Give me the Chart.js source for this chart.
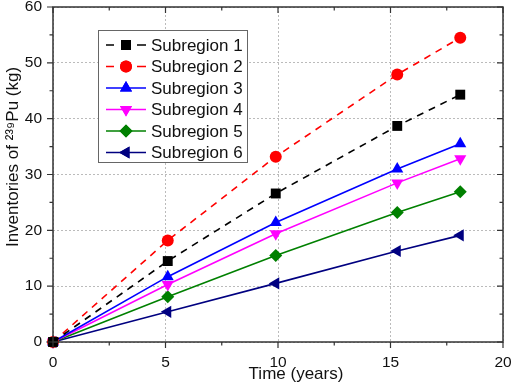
<!DOCTYPE html>
<html>
<head>
<meta charset="utf-8">
<script src="https://cdn.jsdelivr.net/npm/chart.js@4"></script>
<style>
  html, body { margin: 0; padding: 0; background: #fff; }
  #wrap { width: 512px; height: 386px; }
</style>
</head>
<body>
<div id="wrap"><canvas id="chart" width="512" height="386"></canvas></div>
<script>
// values
const years = [0, 5.1, 9.9, 15.3, 18.1];
const labels = ['Subregion 1', 'Subregion 2', 'Subregion 3', 'Subregion 4', 'Subregion 5', 'Subregion 6'];
const sub1 = [0, 14.5, 26.6, 38.7, 44.3];
const sub2 = [0, 18.2, 33.2, 47.9, 54.5];
const sub3 = [0, 11.7, 21.4, 31.0, 35.5];
const sub4 = [0, 10.3, 19.4, 28.5, 32.8];
const sub5 = [0, 8.1, 15.5, 23.2, 26.9];
const sub6 = [0, 5.4, 10.5, 16.3, 19.1];
const xTicks = [0, 5, 10, 15, 20];
const yTicks = [0, 10, 20, 30, 40, 50, 60];
const xTitle = 'Time (years)';
const yTitle = 'Inventories of \u00B2\u00B3\u2079Pu (kg)';

const colors = ['#000000', '#ff0000', '#0000ff', '#ff00ff', '#008000', '#000080'];
const shapes = ['rect', 'circle', 'triangle', 'triangle', 'rectRot', 'triangle'];
const rots = [0, 0, 0, 180, 0, 270];
const radii = [7, 6, 7, 7, 6.5, 7];
const dashes = [[7, 6], [7, 6], [], [], [], []];
const series = [sub1, sub2, sub3, sub4, sub5, sub6];
const FONT = '"Liberation Sans", Arial, sans-serif';

function pts(vals) {
    return vals.map((v, i) => ({ x: years[i], y: v }));
}

const datasets = series.map((s, i) => ({
    label: labels[i],
    data: pts(s),
    borderColor: colors[i],
    backgroundColor: colors[i],
    borderWidth: 1.6,
    borderDash: dashes[i],
    pointStyle: shapes[i],
    pointRotation: rots[i],
    pointRadius: radii[i],
    pointBorderWidth: 0,
    pointBackgroundColor: colors[i],
    clip: false,
    tension: 0
}));

// frame, ticks (out on left/bottom, in on top/right) and axis titles
const framePlugin = {
    id: 'frame',
    afterDraw(chart) {
        const ctx = chart.ctx;
        const a = chart.chartArea;
        const xs = chart.scales.x, ys = chart.scales.y;
        ctx.save();
        ctx.strokeStyle = '#333';
        ctx.lineWidth = 1.5;
        ctx.strokeRect(a.left, a.top, a.right - a.left, a.bottom - a.top);
        ctx.lineWidth = 1.2;
        for (let v = 0; v <= 20; v += 2.5) {
            const px = xs.getPixelForValue(v);
            const len = v % 5 == 0 ? 6 : 3.5;
            ctx.beginPath();
            ctx.moveTo(px, a.bottom); ctx.lineTo(px, a.bottom + len);
            ctx.moveTo(px, a.top); ctx.lineTo(px, a.top + len);
            ctx.stroke();
        }
        for (let v = 0; v <= 60; v += 5) {
            const py = ys.getPixelForValue(v);
            const len = v % 10 == 0 ? 6 : 3.5;
            ctx.beginPath();
            ctx.moveTo(a.left, py); ctx.lineTo(a.left - len, py);
            ctx.moveTo(a.right, py); ctx.lineTo(a.right - len, py);
            ctx.stroke();
        }
        ctx.fillStyle = '#111';
        ctx.font = '17px ' + FONT;
        ctx.textAlign = 'center';
        ctx.textBaseline = 'middle';
        ctx.fillText(xTitle, 296, 374);
        ctx.translate(13, 157);
        ctx.rotate(-Math.PI / 2);
        ctx.fillText(yTitle, 0, 0);
        ctx.restore();
    }
};

// legend box inside the plot
const boxLegend = {
    id: 'boxLegend',
    afterDraw(chart) {
        const ctx = chart.ctx;
        const x0 = 98, y0 = 30, w = 149, h = 132;
        ctx.save();
        ctx.fillStyle = '#fff';
        ctx.fillRect(x0, y0, w, h);
        ctx.strokeStyle = '#666';
        ctx.lineWidth = 1;
        ctx.strokeRect(x0 + 0.5, y0 + 0.5, w, h);
        chart.data.datasets.forEach((ds, i) => {
            const y = 45 + i * 21.5;
            ctx.strokeStyle = ds.borderColor;
            ctx.lineWidth = 1.6;
            ctx.beginPath();
            if (ds.borderDash.length) {
                ctx.moveTo(106, y); ctx.lineTo(114, y);
                ctx.moveTo(137, y); ctx.lineTo(146, y);
            } else {
                ctx.moveTo(106, y); ctx.lineTo(146, y);
            }
            ctx.stroke();
            ctx.fillStyle = ds.backgroundColor;
            Chart.helpers.drawPoint(ctx, {
                pointStyle: ds.pointStyle, rotation: ds.pointRotation,
                radius: ds.pointRadius, borderWidth: 0
            }, 126, y);
            ctx.fill();
            ctx.fillStyle = '#111';
            ctx.font = '17px ' + FONT;
            ctx.textBaseline = 'middle';
            ctx.fillText(ds.label, 151, y + 1);
        });
        ctx.restore();
    }
};

const ctx = document.getElementById('chart').getContext('2d');
const myChart = new Chart(ctx, {
    type: 'line',
    data: { datasets: datasets },
    plugins: [framePlugin, boxLegend],
    options: {
        responsive: false,
        animation: false,
        layout: { padding: { top: 7, right: 9, left: 0, bottom: 0 } },
        plugins: { legend: { display: false }, tooltip: { enabled: false } },
        scales: {
            x: {
                type: 'linear', min: 0, max: 20,
                afterBuildTicks: s => { s.ticks = xTicks.map(v => ({ value: v })); },
                afterFit: s => { s.height = 44; s.paddingLeft = 0; s.paddingRight = 0; },
                grid: { color: '#bbb', lineWidth: 1, drawTicks: false },
                border: { display: false, dash: [2, 2] },
                ticks: { padding: 11, color: '#111', font: { family: FONT, size: 15.5 } }
            },
            y: {
                type: 'linear', min: 0, max: 60,
                afterBuildTicks: s => { s.ticks = yTicks.map(v => ({ value: v })); },
                afterFit: s => { s.width = 53; s.paddingTop = 0; s.paddingBottom = 0; },
                grid: { color: '#bbb', lineWidth: 1, drawTicks: false },
                border: { display: false, dash: [2, 2] },
                ticks: { padding: 11, color: '#111', font: { family: FONT, size: 15.5 } }
            }
        }
    }
});
</script>
</body>
</html>
